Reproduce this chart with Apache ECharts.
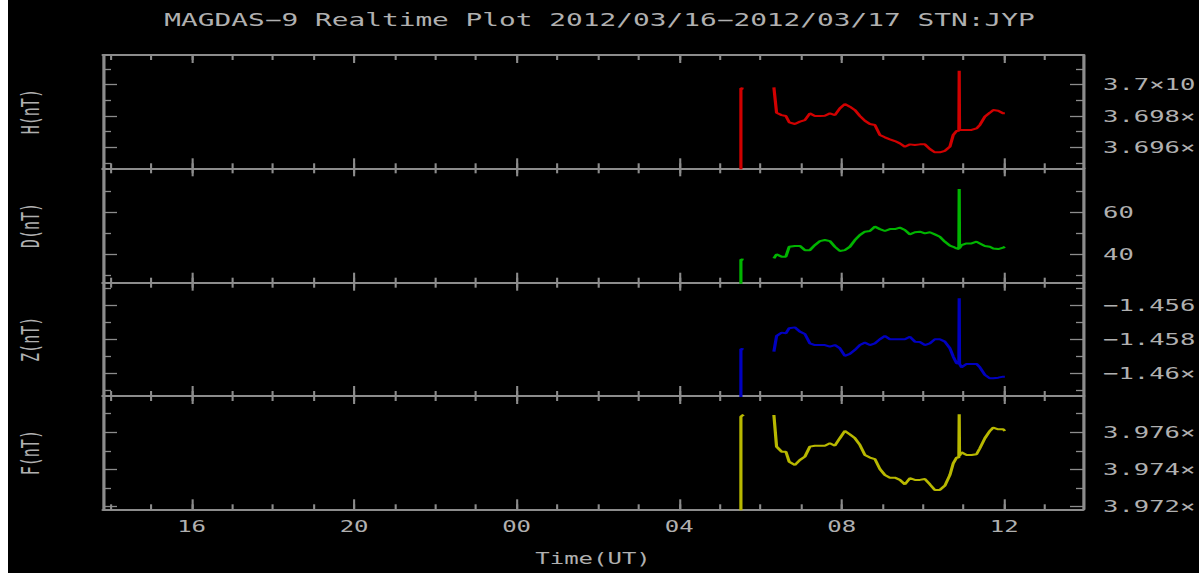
<!DOCTYPE html>
<html><head><meta charset="utf-8">
<script src="https://cdn.jsdelivr.net/npm/echarts@6/dist/echarts.min.js"></script>
<style>
html,body{margin:0;padding:0;background:#000;overflow:hidden;width:1199px;height:573px;}
#chart{position:absolute;left:0;top:0;width:750px;height:573px;transform:scaleX(1.598667);transform-origin:0 0;background:#000;}
#edge{position:absolute;left:0;top:0;width:8px;height:573px;background:#fff;}
</style></head><body>
<div id="chart"></div><div id="edge"></div>
<script>
// ---- data ----
const titleText = 'MAGDAS\u22129 Realtime Plot 2012/03/16\u22122012/03/17 STN:JYP';
const xName = 'Time(UT)';
const xMajorTicks = [16, 20, 24, 28, 32, 36];
const xTickLabels = ['16', '20', '00', '04', '08', '12'];
const xMinorTicks = [14,15,16,17,18,19,20,21,22,23,24,25,26,27,28,29,30,31,32,33,34,35,36,37];

const panelNames = ['H(nT)', 'D(nT)', 'Z(nT)', 'F(nT)'];
// tick labels as they are visible in the picture (the right edge cuts them)
const hMajor = [37000, 36980, 36960];
const hLabels = ['3.7\u00d710', '3.698\u00d7', '3.696\u00d7'];
const hMinor = [37010, 36990, 36970, 36950];
const dMajor = [60, 40];
const dLabels = ['60', '40'];
const dMinor = [70, 50, 30];
const zMajor = [-14560, -14580, -14600];
const zLabels = ['\u22121.456', '\u22121.458', '\u22121.46\u00d7'];
const zMinor = [-14550, -14570, -14590, -14610];
const fMajor = [39760, 39740, 39720];
const fLabels = ['3.976\u00d7', '3.974\u00d7', '3.972\u00d7'];
const fMinor = [39770, 39750, 39730];

// time in hours since 2012/03/16 00:00 UT
const timeH = [29.515, 29.520, 29.585, 29.9,
  30.332, 30.398, 30.521, 30.627, 30.709, 30.849, 30.972, 31.095, 31.218, 31.341, 31.464, 31.587, 31.710,
  31.833, 31.956, 32.079, 32.202, 32.326, 32.449, 32.572, 32.695, 32.818, 32.941, 33.064, 33.187, 33.310,
  33.433, 33.556, 33.679, 33.802, 33.925, 34.048, 34.171, 34.294, 34.417, 34.540, 34.664, 34.746, 34.828,
  34.885, 34.893, 34.901, 34.951, 35.074, 35.197, 35.320, 35.402, 35.525, 35.648, 35.730, 35.853, 35.976, 36.017];

const hValues = [-99999, 36997.7, 36997.5, null,
  36998.3, 36982.1, 36980.6, 36980.0, 36976.0, 36974.9, 36976.4, 36977.4, 36981.7, 36980.0, 36980.0, 36980.2, 36981.7,
  36980.6, 36984.9, 36987.7, 36986.0, 36983.8, 36980.0, 36977.0, 36974.9, 36974.3, 36967.9, 36966.4, 36965.1, 36964.0,
  36962.5, 36960.4, 36961.9, 36961.5, 36961.9, 36961.9, 36958.9, 36956.8, 36956.8, 36957.8, 36960.4, 36967.9, 36970.4,
  36970.6, 37009.0, 36971.0, 36971.1, 36971.1, 36971.1, 36972.1, 36974.3, 36979.6, 36982.1, 36983.8, 36983.4, 36981.7, 36981.7];

const dValues = [-99999, 37.6, 37.4, null,
  38.1, 40.0, 38.9, 38.9, 43.6, 44.0, 44.0, 42.0, 42.0, 44.4, 46.3, 46.8, 46.3,
  43.6, 41.6, 42.0, 43.6, 46.8, 49.2, 50.8, 51.1, 53.2, 52.0, 51.1, 52.0, 52.0,
  52.7, 51.6, 49.5, 50.5, 50.8, 50.0, 50.5, 49.5, 48.4, 46.0, 44.1, 43.6, 42.8,
  42.5, 71.1, 43.0, 44.4, 45.2, 45.2, 46.0, 45.2, 44.0, 43.6, 42.8, 42.5, 43.2, 43.6];

const zValues = [-99999, -14585.7, -14585.9, null,
  -14587.3, -14578.1, -14576.1, -14576.5, -14573.5, -14573.0, -14575.5, -14576.9, -14582.4, -14583.4, -14583.4, -14583.4, -14584.3,
  -14583.4, -14585.3, -14589.8, -14588.6, -14586.3, -14583.4, -14582.0, -14583.4, -14582.4, -14580.0, -14578.1, -14580.0, -14580.0,
  -14580.0, -14580.0, -14578.5, -14581.4, -14581.6, -14583.4, -14582.4, -14580.0, -14580.0, -14581.4, -14585.3, -14590.2, -14594.1,
  -14594.3, -14555.9, -14594.5, -14596.5, -14594.5, -14594.5, -14594.5, -14596.5, -14601.0, -14603.0, -14603.0, -14602.6, -14602.0, -14602.0];

const fValues = [-99999, 39768.4, 39769.5, null,
  39769.3, 39752.3, 39749.6, 39749.6, 39744.2, 39742.4, 39745.1, 39746.9, 39752.3, 39752.8, 39752.8, 39752.8, 39754.1,
  39752.8, 39756.8, 39760.7, 39758.9, 39756.8, 39753.2, 39747.8, 39746.4, 39745.6, 39740.3, 39737.0, 39735.6, 39735.6,
  39734.4, 39732.0, 39735.3, 39734.4, 39734.4, 39734.9, 39732.0, 39729.0, 39729.0, 39731.3, 39737.0, 39743.3, 39746.4,
  39746.4, 39769.7, 39747.5, 39749.2, 39747.8, 39747.8, 39748.2, 39751.4, 39756.8, 39760.7, 39762.5, 39761.6, 39761.6, 39760.7];

// ---- layout / style ----
const SX = 1.598667;               // horizontal stretch of the whole picture
const X = px => px / SX;            // reference px -> chart px (horizontal)
const FONT = 'DejaVu Sans Mono';
const AX = '#8c8c8c';
const TXT = '#b0b0b0';
const xMin = 13.82, xMax = 37.94;

const panels = [
  {name: panelNames[0], values: hValues, color: '#d00000', min: 36946.6, max: 37019.0, major: hMajor, labels: hLabels, minor: hMinor, top: 55.0, h: 113.3},
  {name: panelNames[1], values: dValues, color: '#00b400', min: 26.5, max: 80.95, major: dMajor, labels: dLabels, minor: dMinor, top: 168.3, h: 114.4},
  {name: panelNames[2], values: zValues, color: '#0000c0', min: -14613.4, max: -14546.7, major: zMajor, labels: zLabels, minor: zMinor, top: 282.7, h: 113.3},
  {name: panelNames[3], values: fValues, color: '#b8b800', min: 39718.6, max: 39779.5, major: fMajor, labels: fLabels, minor: fMinor, top: 396.0, h: 113.3}
];

const grids = [], xAxes = [], yAxes = [], series = [];
const gl = X(103), gw = X(1083) - X(103);
panels.forEach((p, g) => {
  grids.push({left: gl, width: gw, top: p.top, height: p.h, containLabel: false, outerBoundsMode: 'none'});
  const last = g === panels.length - 1;
  const mkX = (pos, ticks, len, main) => ({
    gridIndex: g, type: 'value', min: xMin, max: xMax, position: pos,
    axisLine: {show: main, onZero: false, lineStyle: {color: AX, width: 2}},
    axisTick: {show: true, inside: true, length: len, customValues: ticks, lineStyle: {color: AX, width: 1.3}},
    axisLabel: {show: main && last && pos === 'bottom', customValues: xMajorTicks,
      formatter: v => xTickLabels[xMajorTicks.indexOf(v)] || '', color: TXT, fontFamily: FONT, fontSize: 15, margin: 10},
    splitLine: {show: false},
    name: (main && last && pos === 'bottom') ? xName : '',
    nameLocation: 'middle', nameGap: 42,
    nameTextStyle: {color: TXT, fontFamily: FONT, fontSize: 15}
  });
  xAxes.push(mkX('bottom', xMajorTicks, 10, true));
  xAxes.push(mkX('bottom', xMinorTicks, 5, false));
  xAxes.push(mkX('top', xMajorTicks, 8, true));
  xAxes.push(mkX('top', xMinorTicks, 5, false));
  const mkY = (pos, ticks, len, main, labels) => ({
    gridIndex: g, type: 'value', min: p.min, max: p.max, position: pos,
    axisLine: {show: main, onZero: false, lineStyle: {color: AX, width: 2}},
    axisTick: {show: true, inside: true, length: len, customValues: ticks, lineStyle: {color: AX, width: 1.3}},
    axisLabel: {show: !!labels, customValues: p.major,
      formatter: v => labels ? (labels[p.major.indexOf(v)] || '') : '',
      color: TXT, fontFamily: FONT, fontSize: 16, margin: X(20), align: 'left'},
    splitLine: {show: false},
    name: (main && pos === 'left') ? p.name : '',
    nameLocation: 'middle', nameRotate: 90, nameGap: 38,
    nameTextStyle: {color: TXT, fontFamily: FONT, fontSize: 15}
  });
  yAxes.push(mkY('left', p.major, X(14), true, null));
  yAxes.push(mkY('left', p.minor, X(8), false, null));
  yAxes.push(mkY('right', p.major, X(13), true, p.labels));
  yAxes.push(mkY('right', p.minor, X(7), false, null));
  series.push({
    type: 'line', xAxisIndex: g * 4, yAxisIndex: g * 4,
    data: timeH.map((t, i) => [t, p.values[i] === null ? '-' : p.values[i]]),
    showSymbol: false, symbol: 'none', connectNulls: false, clip: true,
    lineStyle: {color: p.color, width: 2}, itemStyle: {color: p.color},
    animation: false, silent: true
  });
});

const chart = echarts.init(document.getElementById('chart'), null, {renderer: 'svg'});
chart.setOption({
  backgroundColor: '#000',
  animation: false,
  title: {text: titleText, left: 'center', top: 6,
    textStyle: {color: TXT, fontFamily: FONT, fontSize: 17.4, fontWeight: 'normal'}},
  grid: grids, xAxis: xAxes, yAxis: yAxes, series: series
});
</script>
</body></html>
